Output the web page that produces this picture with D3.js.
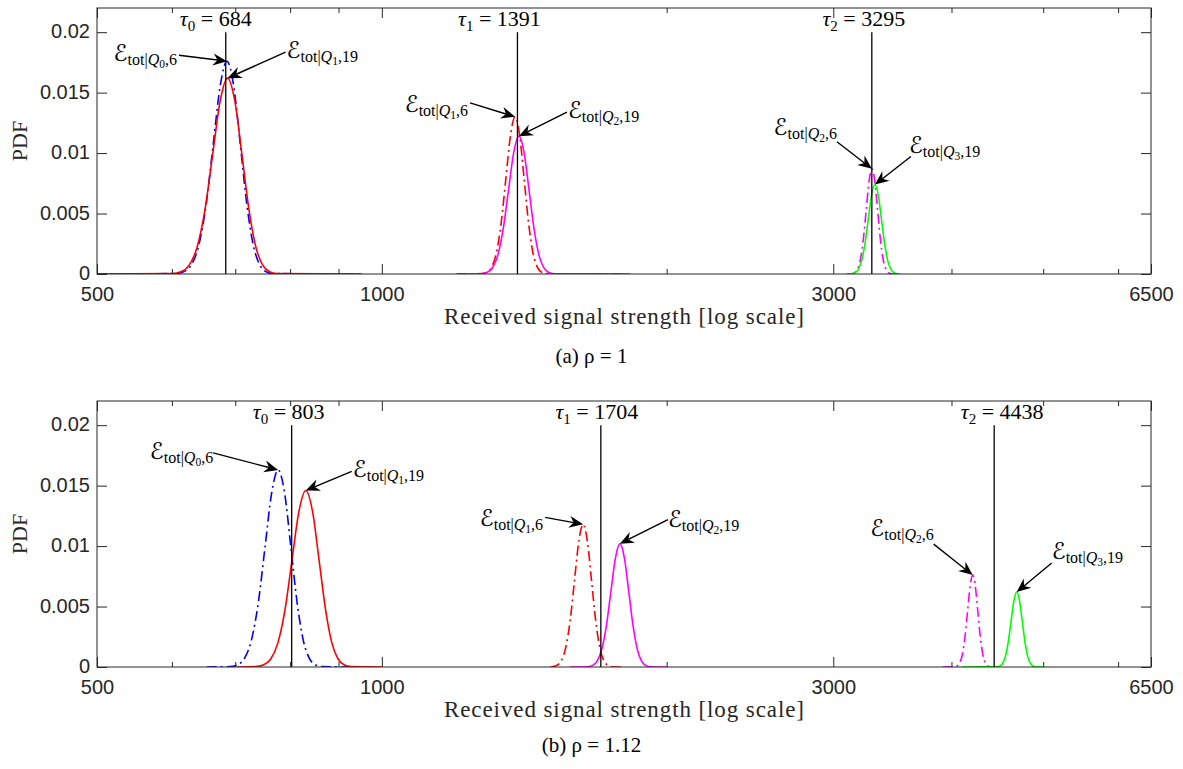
<!DOCTYPE html>
<html><head><meta charset="utf-8">
<script src="https://cdn.jsdelivr.net/npm/d3@7"></script>
<style>body{margin:0;background:#fff}svg{display:block}</style>
</head><body><svg id="c" width="1183" height="769"></svg>
<script>
// ---------- data ----------
const xDomain = [500, 6500];
const yDomain = [0, 0.022];
const xTickMajor = [500, 1000, 3000, 6500];
const xTickMinor = [600, 700, 800, 900, 2000, 4000, 5000, 6000];
const yTicks = [0, 0.005, 0.01, 0.015, 0.02];
const yTickLabels = ["0", "0.005", "0.01", "0.015", "0.02"];
const tauTopValue = 0.02;

const tauA = [684, 1391, 3295];
const tauB = [803, 1704, 4438];
const captionA = "(a) ρ = 1";
const captionB = "(b) ρ = 1.12";
const xLabel = "Received signal strength [log scale]";
const yLabel = "PDF";

// panel (a), rho = 1
const aQ0_6x = [500, 606.6, 617.9, 629.3, 640.6, 652.0, 663.3, 674.7, 686, 697.4, 708.7, 720.1, 731.4, 742.8, 754.1, 765.5, 950];
const aQ0_6y = [0, 0.0000387, 0.000195, 0.000773, 0.002381, 0.005715, 0.010674, 0.015532, 0.0176, 0.015532, 0.010674, 0.005715, 0.002381, 0.000773, 0.000195, 0.0000387, 0];
const aQ1_19x = [500, 600.9, 613.2, 625.5, 637.8, 650.1, 662.4, 674.7, 687, 699.3, 711.6, 723.9, 736.2, 748.5, 760.8, 773.1, 953];
const aQ1_19y = [0, 0.0000356, 0.00018, 0.000711, 0.002192, 0.00526, 0.009825, 0.014297, 0.0162, 0.014297, 0.009825, 0.00526, 0.002192, 0.000711, 0.00018, 0.0000356, 0];
const aQ1_6x = [1200, 1275.5, 1290.9, 1306.3, 1321.6, 1337.0, 1352.3, 1367.7, 1383, 1398.4, 1413.7, 1429.1, 1444.4, 1459.8, 1475.1, 1490.5, 1800];
const aQ1_6y = [0, 0.0000286, 0.000144, 0.000571, 0.001759, 0.004221, 0.007885, 0.011473, 0.013, 0.011473, 0.007885, 0.004221, 0.001759, 0.000571, 0.000144, 0.0000286, 0];
const aQ2_19x = [1200, 1273.5, 1291, 1308.5, 1326, 1343.5, 1361, 1378.5, 1396, 1413.5, 1431, 1448.5, 1466, 1483.5, 1501, 1518.5, 1830];
const aQ2_19y = [0, 0.0000251, 0.000127, 0.0005, 0.001542, 0.003702, 0.006914, 0.01006, 0.0114, 0.01006, 0.006914, 0.003702, 0.001542, 0.0005, 0.000127, 0.0000251, 0];
const aQ2_6x = [3100, 3135.5, 3158.5, 3181.4, 3204.3, 3227.2, 3250.2, 3273.1, 3296, 3318.9, 3341.9, 3364.8, 3387.7, 3410.6, 3433.6, 3456.5, 3500];
const aQ2_6y = [0, 0.0000191, 0.0000966, 0.000382, 0.001177, 0.002825, 0.005277, 0.007678, 0.0087, 0.007678, 0.005277, 0.002825, 0.001177, 0.000382, 0.0000966, 0.0000191, 0];
const aQ3_19x = [3100, 3131.4, 3158.3, 3185.3, 3212.2, 3239.2, 3266.1, 3293.1, 3320, 3347.0, 3373.9, 3400.9, 3427.8, 3454.8, 3481.7, 3508.7, 3530];
const aQ3_19y = [0, 0.0000163, 0.0000821, 0.000325, 0.001001, 0.002403, 0.004488, 0.006531, 0.0074, 0.006531, 0.004488, 0.002403, 0.001001, 0.000325, 0.0000821, 0.0000163, 0];

// panel (b), rho = 1.12
const bQ0_6x = [653, 691.3, 703.5, 715.8, 728, 740.3, 752.5, 764.8, 777, 789.3, 801.5, 813.8, 826, 838.3, 850.5, 862.8, 919];
const bQ0_6y = [0, 0.0000359, 0.000181, 0.000716, 0.002205, 0.005293, 0.009886, 0.014385, 0.0163, 0.014385, 0.009886, 0.005293, 0.002205, 0.000716, 0.000181, 0.0000359, 0];
const bQ1_19x = [703, 735.5, 749.1, 762.8, 776.4, 790.1, 803.7, 817.4, 831, 844.7, 858.3, 872, 885.6, 899.3, 912.9, 926.6, 1000];
const bQ1_19y = [0, 0.0000321, 0.000162, 0.000641, 0.001975, 0.004741, 0.008855, 0.012885, 0.0146, 0.012885, 0.008855, 0.004741, 0.001975, 0.000641, 0.000162, 0.0000321, 0];
const bQ1_6x = [1506, 1513.7, 1530.6, 1547.5, 1564.4, 1581.3, 1598.2, 1615.1, 1632, 1648.9, 1665.8, 1682.7, 1699.6, 1716.5, 1733.4, 1750.3, 1797];
const bQ1_6y = [0, 0.000026, 0.000131, 0.000518, 0.001597, 0.003831, 0.007157, 0.010414, 0.0118, 0.010414, 0.007157, 0.003831, 0.001597, 0.000518, 0.000131, 0.000026, 0];
const bQ2_19x = [1582, 1648.2, 1667.7, 1687.3, 1706.8, 1726.4, 1745.9, 1765.5, 1785, 1804.6, 1824.1, 1843.7, 1863.2, 1882.8, 1902.3, 1921.9, 2000];
const bQ2_19y = [0, 0.0000224, 0.000113, 0.000448, 0.00138, 0.003312, 0.006186, 0.009002, 0.0102, 0.009002, 0.006186, 0.003312, 0.00138, 0.000448, 0.000113, 0.0000224, 0];
const bQ2_6x = [3915, 4028.3, 4054.5, 4080.8, 4107, 4133.3, 4159.5, 4185.8, 4212, 4238.3, 4264.5, 4290.8, 4317, 4343.3, 4369.5, 4395.8, 4420];
const bQ2_6y = [0, 0.0000167, 0.0000844, 0.000334, 0.001028, 0.002468, 0.004609, 0.006707, 0.0076, 0.006707, 0.004609, 0.002468, 0.001028, 0.000334, 0.0000844, 0.0000167, 0];
const bQ3_19x = [4104, 4463, 4495.1, 4527.3, 4559.4, 4591.6, 4623.7, 4655.9, 4688, 4720.2, 4752.3, 4784.5, 4816.6, 4848.8, 4880.9, 4913.1, 5000];
const bQ3_19y = [0, 0.0000136, 0.0000688, 0.000272, 0.000839, 0.002013, 0.00376, 0.005472, 0.0062, 0.005472, 0.00376, 0.002013, 0.000839, 0.000272, 0.0000688, 0.0000136, 0];

// ---------- layout / style ----------
const W = 1183, H = 769, X0 = 97, X1 = 1151;
const AX = "#262626";
const SERIF = "'Liberation Serif','Times New Roman',serif";
const SANS = "'Liberation Sans',Arial,Helvetica,sans-serif";
const SCRIPT = "'DejaVu Serif','DejaVu Sans','Noto Sans',serif";
const DASHDOT = "10,4,2,4";

function S(x, y, color, dash, q, n, ann) { return {x, y, color, dash, q, n, ann}; }

const panels = [
  { id: "a", top: 8, bottom: 274, taus: tauA, tauDx: [-10, -18, -8], caption: captionA, capY: 363,
    series: [
      S(aQ0_6x, aQ0_6y, "#0000ff", true, 0, 6, {dx: -48, dy: -6, anchor: "end", tx: -2, ty: 6}),
      S(aQ1_19x, aQ1_19y, "#ff0000", false, 1, 19, {dx: 58, dy: -26, anchor: "start", tx: 1, ty: 6}),
      S(aQ1_6x, aQ1_6y, "#ff0000", true, 1, 6, {dx: -45, dy: -14, anchor: "end", tx: -2, ty: 9}),
      S(aQ2_19x, aQ2_19y, "#ff00ff", false, 2, 19, {dx: 48, dy: -24, anchor: "start", tx: 1, ty: 6}),
      S(aQ2_6x, aQ2_6y, "#ff00ff", true, 2, 6, {dx: -35, dy: -27, anchor: "end", tx: 0, ty: -7}),
      S(aQ3_19x, aQ3_19y, "#00ff00", false, 3, 19, {dx: 36, dy: -28, anchor: "start", tx: -2, ty: -4})
    ]},
  { id: "b", top: 401, bottom: 667, taus: tauB, tauDx: [-3, -4, 8], caption: captionB, capY: 752,
    series: [
      S(bQ0_6x, bQ0_6y, "#0000ff", true, 0, 6, {dx: -65, dy: -17, anchor: "end", tx: 0, ty: 6}),
      S(bQ1_19x, bQ1_19y, "#ff0000", false, 1, 19, {dx: 46, dy: -19, anchor: "start", tx: 1, ty: 6}),
      S(bQ1_6x, bQ1_6y, "#ff0000", true, 1, 6, {dx: -38, dy: -7, anchor: "end", tx: -2, ty: 9}),
      S(bQ2_19x, bQ2_19y, "#ff00ff", false, 2, 19, {dx: 48, dy: -24, anchor: "start", tx: 0, ty: 7}),
      S(bQ2_6x, bQ2_6y, "#ff00ff", true, 2, 6, {dx: -39, dy: -31, anchor: "end", tx: 0, ty: -8}),
      S(bQ3_19x, bQ3_19y, "#00ff00", false, 3, 19, {dx: 35, dy: -29, anchor: "start", tx: 0, ty: -4})
    ]}
];

const svg = d3.select("#c");
svg.append("rect").attr("width", W).attr("height", H).attr("fill", "#fff");

function styleAxis(g, withText, fontSize) {
  g.select(".domain").remove();
  g.selectAll(".tick line").attr("stroke", AX).attr("stroke-width", 1);
  if (withText) g.selectAll(".tick text").attr("fill", AX).attr("font-family", SANS).attr("font-size", fontSize);
  else g.selectAll(".tick text").remove();
}

function arrow(g, tip, tail) {
  const ang = Math.atan2(tip[1] - tail[1], tip[0] - tail[0]);
  const L = 14, Wd = 6, notch = 9.5;
  const ux = Math.cos(ang), uy = Math.sin(ang), px = -uy, py = ux;
  const back = [tip[0] - ux * L, tip[1] - uy * L];
  const nb = [tip[0] - ux * notch, tip[1] - uy * notch];
  g.append("line").attr("x1", tail[0]).attr("y1", tail[1]).attr("x2", nb[0]).attr("y2", nb[1])
    .attr("stroke", "#000").attr("stroke-width", 1.4);
  g.append("path").attr("d", `M${tip[0]},${tip[1]}L${back[0] + px * Wd},${back[1] + py * Wd}L${nb[0]},${nb[1]}L${back[0] - px * Wd},${back[1] - py * Wd}Z`)
    .attr("fill", "#000");
}

function annLabel(g, x, y, anchor, q, n) {
  const t = g.append("text").attr("x", x).attr("y", y).attr("text-anchor", anchor)
    .attr("font-family", SERIF).attr("fill", "#000");
  t.append("tspan").attr("font-family", SCRIPT).attr("font-size", 23).text("ℰ");
  t.append("tspan").attr("dy", 4).attr("font-size", 16).text("tot|");
  t.append("tspan").attr("font-size", 16).attr("font-style", "italic").text("Q");
  t.append("tspan").attr("dy", 3).attr("font-size", 11.5).text(q);
  t.append("tspan").attr("dy", -3).attr("font-size", 16).text("," + n);
}

panels.forEach(p => {
  const x = d3.scaleLog().domain(xDomain).range([X0, X1]);
  const y = d3.scaleLinear().domain(yDomain).range([p.bottom, p.top]);
  const g = svg.append("g");

  const clipId = "clip-" + p.id;
  svg.append("clipPath").attr("id", clipId).append("rect")
    .attr("x", X0).attr("y", p.top).attr("width", X1 - X0).attr("height", p.bottom - p.top);

  // curves
  const line = d3.line().x(d => x(d[0])).y(d => y(d[1])).curve(d3.curveMonotoneX);
  const cg = g.append("g").attr("clip-path", `url(#${clipId})`);
  p.series.forEach(s => {
    cg.append("path").attr("d", line(d3.zip(s.x, s.y))).attr("fill", "none")
      .attr("stroke", s.color).attr("stroke-width", 1.6)
      .attr("stroke-dasharray", s.dash ? DASHDOT : null);
  });

  // tau lines + labels
  p.taus.forEach((t, i) => {
    g.append("line").attr("x1", x(t)).attr("x2", x(t)).attr("y1", y(0)).attr("y2", y(tauTopValue))
      .attr("stroke", "#000").attr("stroke-width", 1.3);
    const tx = g.append("text").attr("x", x(t) + p.tauDx[i]).attr("y", p.top + 18)
      .attr("text-anchor", "middle").attr("font-family", SERIF).attr("font-size", 22).attr("fill", "#000");
    tx.append("tspan").attr("font-style", "italic").text("τ");
    tx.append("tspan").attr("dy", 5).attr("font-size", 15).text(i);
    tx.append("tspan").attr("dy", -5).text(" = " + t);
  });

  // axes
  const bMaj = g.append("g").attr("transform", `translate(0,${p.bottom})`)
    .call(d3.axisBottom(x).tickValues(xTickMajor).tickFormat(d3.format("d")).tickSize(-10).tickPadding(13));
  styleAxis(bMaj, true, 20);
  const bMin = g.append("g").attr("transform", `translate(0,${p.bottom})`)
    .call(d3.axisBottom(x).tickValues(xTickMinor).tickSize(-5));
  styleAxis(bMin, false);
  const tMaj = g.append("g").attr("transform", `translate(0,${p.top})`)
    .call(d3.axisTop(x).tickValues(xTickMajor).tickSize(-10));
  styleAxis(tMaj, false);
  const tMin = g.append("g").attr("transform", `translate(0,${p.top})`)
    .call(d3.axisTop(x).tickValues(xTickMinor).tickSize(-5));
  styleAxis(tMin, false);
  const l = g.append("g").attr("transform", `translate(${X0},0)`)
    .call(d3.axisLeft(y).tickValues(yTicks).tickFormat((d, i) => yTickLabels[i]).tickSize(-10).tickPadding(7));
  styleAxis(l, true, 20);
  l.selectAll(".tick text").attr("dy", "0.28em");
  const r = g.append("g").attr("transform", `translate(${X1},0)`)
    .call(d3.axisRight(y).tickValues(yTicks).tickSize(-10));
  styleAxis(r, false);

  g.append("rect").attr("x", X0).attr("y", p.top).attr("width", X1 - X0).attr("height", p.bottom - p.top)
    .attr("fill", "none").attr("stroke", AX).attr("stroke-width", 1);

  // axis labels
  g.append("text").attr("x", (X0 + X1) / 2).attr("y", p.bottom + 50).attr("text-anchor", "middle")
    .attr("font-family", SERIF).attr("font-size", 23).attr("fill", AX)
    .attr("textLength", 360).attr("lengthAdjust", "spacing").text(xLabel);
  g.append("text").attr("transform", `translate(27,${(p.top + p.bottom) / 2}) rotate(-90)`)
    .attr("text-anchor", "middle").attr("font-family", SERIF).attr("font-size", 22).attr("fill", AX).text(yLabel);

  // caption
  g.append("text").attr("x", W / 2).attr("y", p.capY).attr("text-anchor", "middle")
    .attr("font-family", SERIF).attr("font-size", 21).attr("fill", "#000").text(p.caption);

  // annotations
  const ag = g.append("g");
  p.series.forEach(s => {
    const k = d3.maxIndex(s.y);
    const tip = [x(s.x[k]), y(s.y[k])];
    const tail = [tip[0] + s.ann.dx, tip[1] + s.ann.dy];
    arrow(ag, tip, tail);
    annLabel(ag, tail[0] + s.ann.tx, tail[1] + s.ann.ty, s.ann.anchor, s.q, s.n);
  });
});
</script>
</body></html>
